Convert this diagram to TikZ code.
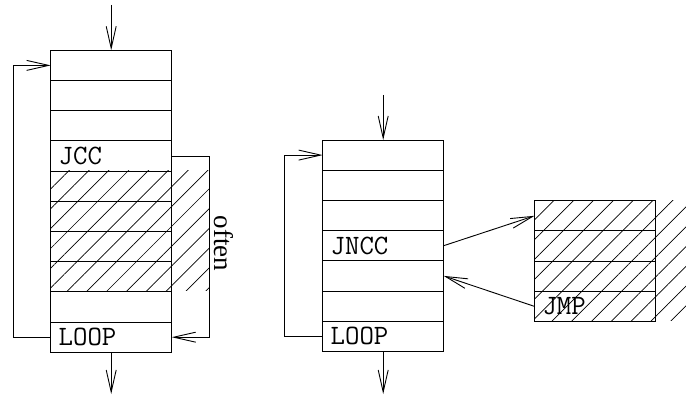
\documentclass[tikz,border=0pt]{standalone}
\usepackage{fontspec}
\setmainfont{Liberation Serif}
\usepackage{tikz}
\usetikzlibrary{positioning}
\usetikzlibrary{arrows.meta,patterns.meta}

\tikzset{
    cell/.style={draw, outer sep=0pt, inner xsep=8pt, inner ysep=0pt,
        text width=105pt, align=left, minimum height=30.2pt,
        font=\ttfamily\fontsize{28}{30}\selectfont},
    hatch/.style={pattern={Lines[angle=45,distance=14pt,line width=0.7pt]}},
    >={Straight Barb[length=22pt,width=10pt]}
}

\begin{document}
\begin{tikzpicture}[x=1pt, y=-1pt, line width=0.9pt]
    \useasboundingbox (0,0) rectangle (686,398);

    % Hatched areas
    \fill[hatch] (50.7,170.7) rectangle (209.3,290.7);
    \fill[hatch] (534.3,200.7) rectangle (686,321);

    % Loop with conditional jump
    \node[cell] (a1) at (111.2,65.4) {};
    \node[cell, below=0pt of a1] (a2) {};
    \node[cell, below=0pt of a2] (a3) {};
    \node[cell, below=0pt of a3] (jcc) {JCC};
    \node[cell, below=0pt of jcc] (a5) {};
    \node[cell, below=0pt of a5] (a6) {};
    \node[cell, below=0pt of a6] (a7) {};
    \node[cell, below=0pt of a7] (a8) {};
    \node[cell, below=0pt of a8] (a9) {};
    \node[cell, below=0pt of a9] (loopa) {LOOP};
    \coordinate (ina) at (111.2,5);
    \coordinate (outa) at (111.2,394);
    \draw[->] (ina) -- (a1);
    \draw[->] (loopa) -- (outa);
    \draw[->] (loopa.west) -- ++(-37.5,0) |- (a1.west);
    \draw[->] (jcc.east) -- ++(37.5,0) |- (loopa.east);
    \node[rotate=-90, font=\fontsize{27}{30}\selectfont] (often) at (224,243.5) {often};

    % Loop with inverted jump
    \node[cell] (b1) at (383.2,155.1) {};
    \node[cell, below=0pt of b1] (b2) {};
    \node[cell, below=0pt of b2] (b3) {};
    \node[cell, below=0pt of b3] (jncc) {JNCC};
    \node[cell, below=0pt of jncc] (b5) {};
    \node[cell, below=0pt of b5] (b6) {};
    \node[cell, below=0pt of b6] (loopb) {LOOP};
    \coordinate (inb) at (383.2,95);
    \coordinate (outb) at (383.2,394);
    \draw[->] (inb) -- (b1);
    \draw[->] (loopb) -- (outb);
    \draw[->] (loopb.west) -- ++(-38,0) |- (b1.west);

    % Moved out block
    \node[cell] (c1) at (595,215.8) {};
    \node[cell, below=0pt of c1] (c2) {};
    \node[cell, below=0pt of c2] (c3) {};
    \node[cell, below=0pt of c3] (jmp) {JMP};
    \draw[->] (jncc.east) -- (c1.west);
    \draw[->] (jmp.west) -- (b5.east);
\end{tikzpicture}
\end{document}
